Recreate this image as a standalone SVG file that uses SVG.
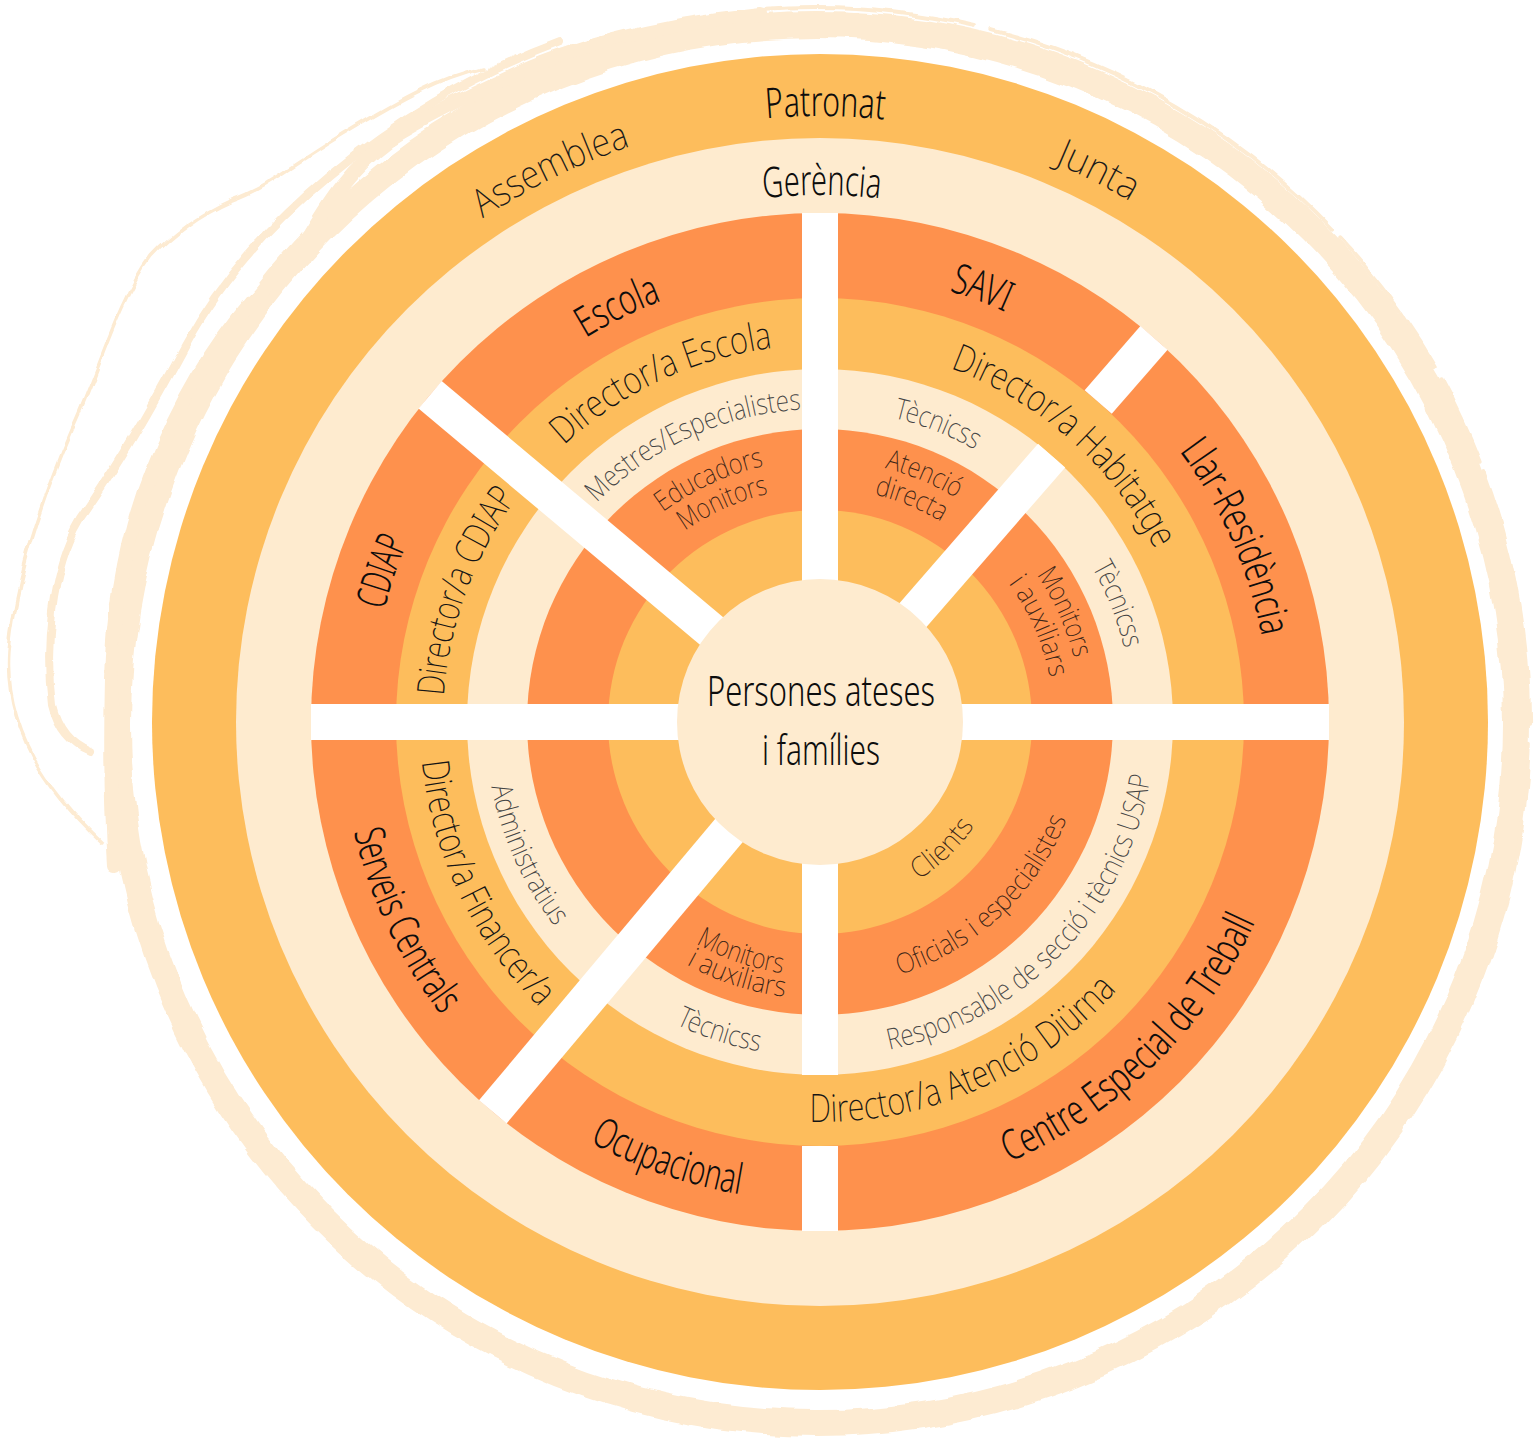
<svg xmlns="http://www.w3.org/2000/svg" width="1537" height="1445" viewBox="0 0 1537 1445">
<defs>
<style>
.t{font-family:'Noto Sans','DejaVu Sans Condensed','Liberation Sans',sans-serif;font-stretch:condensed;text-anchor:middle}
.main{font-size:42px;font-weight:300;fill:#0d0d0d}
.hd{font-size:39px;font-weight:200;fill:#1a1a1a}
.dir{font-size:38px;font-weight:200;fill:#151515}
.sm{font-size:29px;font-weight:200;fill:#444}
.in{font-size:28px;font-weight:200;fill:#3a2416}
.y{fill:#FDBD5C}.c{fill:#FEEBCF}.o{fill:#FE914D}
.bar{stroke:#fff;stroke-width:36;fill:none}
.br{fill:none;stroke:#FDEBD2;stroke-linecap:round;stroke-linejoin:round}
</style>
<filter id="rough" x="-10%" y="-10%" width="120%" height="120%">
<feTurbulence type="fractalNoise" baseFrequency="0.03" numOctaves="2" seed="4"/>
<feDisplacementMap in="SourceGraphic" scale="9" xChannelSelector="R" yChannelSelector="G"/>
</filter>
<path id="cw606" d="M223.21,616.77 A606,606 0 0 1 1416.79,616.77"/>
<path id="cw527" d="M301.01,630.49 A527,527 0 0 1 1338.99,630.49"/>
<path id="cw450" d="M376.84,643.86 A450,450 0 0 1 1263.16,643.86"/>
<path id="cw377" d="M448.73,656.53 A377,377 0 0 1 1191.27,656.53"/>
<path id="cw313" d="M511.75,667.65 A313,313 0 0 1 1128.25,667.65"/>
<path id="cw262" d="M561.98,676.50 A262,262 0 0 1 1078.02,676.50"/>
<path id="cw234" d="M589.55,681.37 A234,234 0 0 1 1050.45,681.37"/>
<path id="ccw479" d="M348.28,805.18 A479,479 0 0 0 1291.72,805.18"/>
<path id="ccw400" d="M426.08,791.46 A400,400 0 0 0 1213.92,791.46"/>
<path id="ccw335" d="M490.09,780.17 A335,335 0 0 0 1149.91,780.17"/>
<path id="ccw254" d="M569.86,766.11 A254,254 0 0 0 1070.14,766.11"/>
<path id="ccw277" d="M547.21,770.10 A277,277 0 0 0 1092.79,770.10"/>
<path id="ccw265" d="M559.03,768.02 A265,265 0 0 0 1081.03,768.02"/>
<path id="ccw186" d="M636.83,754.30 A186,186 0 0 0 1003.17,754.30"/>
</defs>

<g id="brush" filter="url(#rough)">
<circle class="br" cx="817" cy="724" r="699" stroke-width="26"/>
<path class="br" stroke-width="4" stroke-dasharray="160 14 90 10 260 18 400 12" d="M458,103.7 A714,714 0 0 1 1362,1181"/>
<path class="br" stroke-width="3.5" d="M485,68 C440,78 400,100 330,143 C290,168 262,190 232,200 C200,214 170,236 150,258 C118,300 96,380 72,430 C42,500 16,580 9,650 C4,720 40,785 102,843"/>
<path class="br" stroke-width="8" d="M560,42 C470,75 390,125 330,175 C270,225 220,280 185,345 C150,410 115,470 80,520 C50,570 45,650 52,705 C58,730 72,745 90,752"/>
<path class="br" stroke-width="14" d="M760,14 C650,25 560,52 509,77 C455,102 420,120 388,140 C350,168 330,200 310,233 C285,268 268,285 252,300 C205,355 172,420 152,470 C128,530 114,600 112,680 C110,760 112,820 115,866"/>
</g>

<g id="rings">
<circle class="y" cx="820" cy="722" r="668"/>
<circle class="c" cx="820" cy="722" r="584"/>
<circle class="o" cx="820" cy="722" r="509"/>
<circle class="y" cx="820" cy="722" r="424"/>
<circle class="c" cx="820" cy="722" r="353"/>
<circle class="o" cx="820" cy="722" r="293"/>
<circle class="y" cx="820" cy="722" r="212"/>
</g>

<g id="connectors">
<line class="bar" x1="820" y1="722" x2="820" y2="213"/>
<line class="bar" x1="311" y1="722" x2="1329" y2="722"/>
<line class="bar" x1="820" y1="722" x2="820" y2="1075"/>
<line class="bar" x1="820" y1="1146" x2="820" y2="1231"/>
<line class="bar" x1="820" y1="722" x2="430.1" y2="394.8"/>
<line class="bar" x1="820" y1="722" x2="492.8" y2="1111.9"/>
<line class="bar" x1="820" y1="722" x2="1051.6" y2="455.6"/>
<line class="bar" x1="1098.2" y1="402.0" x2="1154.0" y2="337.9"/>
</g>

<g id="persones-ateses">
<circle class="c" cx="820" cy="722" r="143"/>
<text class="t main" x="821" y="706" textLength="228" lengthAdjust="spacingAndGlyphs">Persones ateses</text>
<text class="t main" x="821" y="765" textLength="118" lengthAdjust="spacingAndGlyphs">i famílies</text>
</g>

<g id="patronat">
<text class="t main" transform="rotate(0.5 820 722)"><textPath href="#cw606" startOffset="50%" textLength="118" lengthAdjust="spacingAndGlyphs">Patronat</textPath></text>
<text class="t hd" transform="rotate(-26 820 722)"><textPath href="#cw606" startOffset="50%" textLength="165" lengthAdjust="spacingAndGlyphs">Assemblea</textPath></text>
<text class="t hd" transform="rotate(26.8 820 722)"><textPath href="#cw606" startOffset="50%" textLength="85" lengthAdjust="spacingAndGlyphs">Junta</textPath></text>
</g>

<g id="gerencia">
<text class="t main" transform="rotate(0.2 820 722)"><textPath href="#cw527" startOffset="50%" textLength="117" lengthAdjust="spacingAndGlyphs">Gerència</textPath></text>
</g>

<g id="escola">
<text class="t main" transform="rotate(-26 820 722)"><textPath href="#cw450" startOffset="50%" textLength="85" lengthAdjust="spacingAndGlyphs">Escola</textPath></text>
<text class="t dir" transform="rotate(-25 820 722)"><textPath href="#cw377" startOffset="50%" textLength="234" lengthAdjust="spacingAndGlyphs">Director/a Escola</textPath></text>
<text class="t sm" transform="rotate(-24.5 820 722)"><textPath href="#cw313" startOffset="50%" textLength="230" lengthAdjust="spacingAndGlyphs">Mestres/Especialistes</textPath></text>
<text class="t in" transform="rotate(-24.6 820 722)"><textPath href="#cw262" startOffset="50%" textLength="112" lengthAdjust="spacingAndGlyphs">Educadors</textPath></text>
<text class="t in" transform="rotate(-24 820 722)"><textPath href="#cw234" startOffset="50%" textLength="92" lengthAdjust="spacingAndGlyphs">Monitors</textPath></text>
</g>

<g id="savi">
<text class="t main" transform="rotate(20.5 820 722)"><textPath href="#cw450" startOffset="50%" textLength="60" lengthAdjust="spacingAndGlyphs">SAVI</textPath></text>
<text class="t sm" transform="rotate(21.6 820 722)"><textPath href="#cw313" startOffset="50%" textLength="88" lengthAdjust="spacingAndGlyphs">Tècnicss</textPath></text>
<text class="t in" transform="rotate(22.8 820 722)"><textPath href="#cw262" startOffset="50%" textLength="78" lengthAdjust="spacingAndGlyphs">Atenció</textPath></text>
<text class="t in" transform="rotate(22.3 820 722)"><textPath href="#cw234" startOffset="50%" textLength="73" lengthAdjust="spacingAndGlyphs">directa</textPath></text>
</g>

<g id="habitatge">
<text class="t dir" transform="rotate(41.5 820 722)"><textPath href="#cw377" startOffset="50%" textLength="280" lengthAdjust="spacingAndGlyphs">Director/a Habitatge</textPath></text>
</g>

<g id="llar-residencia">
<text class="t main" transform="rotate(66 820 722)"><textPath href="#cw450" startOffset="50%" textLength="205" lengthAdjust="spacingAndGlyphs">Llar-Residència</textPath></text>
<text class="t sm" transform="rotate(68.4 820 722)"><textPath href="#cw313" startOffset="50%" textLength="88" lengthAdjust="spacingAndGlyphs">Tècnicss</textPath></text>
<text class="t in" transform="rotate(65.8 820 722)"><textPath href="#cw262" startOffset="50%" textLength="92" lengthAdjust="spacingAndGlyphs">Monitors</textPath></text>
<text class="t in" transform="rotate(66.4 820 722)"><textPath href="#cw234" startOffset="50%" textLength="104" lengthAdjust="spacingAndGlyphs">i auxiliars</textPath></text>
</g>

<g id="cdiap">
<text class="t main" transform="rotate(-71 820 722)"><textPath href="#cw450" startOffset="50%" textLength="72" lengthAdjust="spacingAndGlyphs">CDIAP</textPath></text>
<text class="t dir" transform="rotate(-69.8 820 722)"><textPath href="#cw377" startOffset="50%" textLength="214" lengthAdjust="spacingAndGlyphs">Director/a CDIAP</textPath></text>
</g>

<g id="serveis-centrals">
<text class="t main" transform="rotate(64.5 820 722)"><textPath href="#ccw479" startOffset="50%" textLength="205" lengthAdjust="spacingAndGlyphs">Serveis Centrals</textPath></text>
<text class="t dir" transform="rotate(64.4 820 722)"><textPath href="#ccw400" startOffset="50%" textLength="278" lengthAdjust="spacingAndGlyphs">Director/a Financer/a</textPath></text>
<text class="t sm" transform="rotate(65.6 820 722)"><textPath href="#ccw335" startOffset="50%" textLength="155" lengthAdjust="spacingAndGlyphs">Administratius</textPath></text>
</g>

<g id="ocupacional">
<text class="t main" transform="rotate(19.2 820 722)"><textPath href="#ccw479" startOffset="50%" textLength="160" lengthAdjust="spacingAndGlyphs">Ocupacional</textPath></text>
<text class="t sm" transform="rotate(18 820 722)"><textPath href="#ccw335" startOffset="50%" textLength="88" lengthAdjust="spacingAndGlyphs">Tècnicss</textPath></text>
<text class="t in" transform="rotate(18.9 820 722)"><textPath href="#ccw254" startOffset="50%" textLength="92" lengthAdjust="spacingAndGlyphs">Monitors</textPath></text>
<text class="t in" transform="rotate(18.1 820 722)"><textPath href="#ccw277" startOffset="50%" textLength="104" lengthAdjust="spacingAndGlyphs">i auxiliars</textPath></text>
</g>

<g id="atencio-diurna">
<text class="t dir" transform="rotate(-23.2 820 722)"><textPath href="#ccw400" startOffset="50%" textLength="345" lengthAdjust="spacingAndGlyphs">Director/a Atenció Diürna</textPath></text>
</g>

<g id="centre-especial-treball">
<text class="t main" transform="rotate(-44.3 820 722)"><textPath href="#ccw479" startOffset="50%" textLength="352" lengthAdjust="spacingAndGlyphs">Centre Especial de Treball</textPath></text>
<text class="t sm" transform="rotate(-46.3 820 722)"><textPath href="#ccw335" startOffset="50%" textLength="402" lengthAdjust="spacingAndGlyphs">Responsable de secció i tècnics USAP</textPath></text>
<text class="t in" transform="rotate(-43 820 722)"><textPath href="#ccw265" startOffset="50%" textLength="236" lengthAdjust="spacingAndGlyphs">Oficials i especialistes</textPath></text>
<text class="t in" transform="rotate(-44 820 722)"><textPath href="#ccw186" startOffset="50%" textLength="78" lengthAdjust="spacingAndGlyphs">Clients</textPath></text>
</g>
</svg>
